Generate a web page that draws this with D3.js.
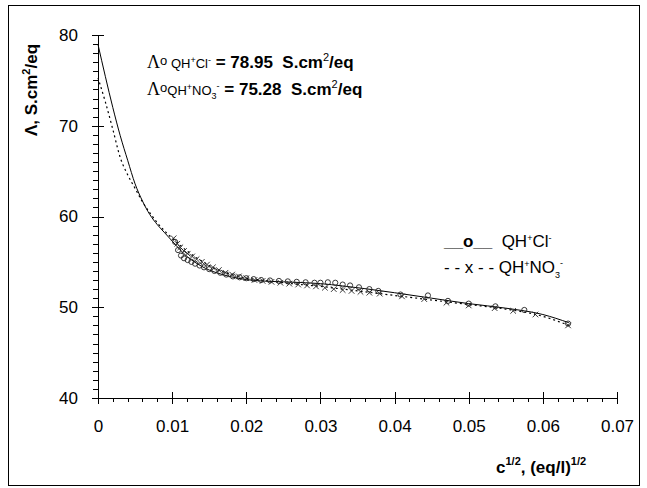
<!DOCTYPE html>
<html>

<head>
  <meta charset="UTF-8">
  <title>Conductance</title>
  <style>
    body { margin: 0; background: #fff; }
    svg { display: block; font-family: "Liberation Sans", Arial, sans-serif; }
    .axis path, .axis line { stroke: #000; stroke-width: 1; shape-rendering: crispEdges; }
    .axis text { font-size: 17px; fill: #000; }
  </style>
</head>

<body>
  <script src="https://cdn.jsdelivr.net/npm/d3@7"></script>
  <script>
    const width = 647,
      height = 488

    // tick values
    const xTicks = [0, 0.01, 0.02, 0.03, 0.04, 0.05, 0.06, 0.07]
    const yTicks = [40, 50, 60, 70, 80]

    // measured points, QH+Cl- (o)
    const clX = [0.0104, 0.0108, 0.0112, 0.0116, 0.0121, 0.0126, 0.0131, 0.0137, 0.0143, 0.0150,
      0.0157, 0.0165, 0.0173, 0.0182, 0.0191, 0.0200, 0.0210, 0.0220, 0.0232, 0.0244,
      0.0256, 0.0268, 0.0280, 0.0292, 0.0300, 0.0310, 0.0320, 0.0330, 0.0340, 0.0352,
      0.0366, 0.0378, 0.0408, 0.0445, 0.0472, 0.0500, 0.0536, 0.0575, 0.0634]
    const clY = [57.2, 56.3, 55.7, 55.4, 55.2, 55.0, 54.8, 54.6, 54.4, 54.2,
      54.0, 53.8, 53.6, 53.4, 53.3, 53.2, 53.1, 53.0, 52.95, 52.9,
      52.85, 52.8, 52.75, 52.7, 52.7, 52.75, 52.7, 52.5, 52.4, 52.2,
      52.0, 51.8, 51.4, 51.3, 50.7, 50.4, 50.1, 49.7, 48.2]

    // measured points, QH+NO3- (x)
    const noX = [0.0102, 0.0107, 0.0111, 0.0116, 0.0121, 0.0127, 0.0133, 0.0140, 0.0147, 0.0155,
      0.0163, 0.0172, 0.0181, 0.0190, 0.0200, 0.0211, 0.0222, 0.0234, 0.0246, 0.0258,
      0.0270, 0.0282, 0.0294, 0.0306, 0.0318, 0.0330, 0.0342, 0.0354, 0.0366, 0.0380,
      0.0410, 0.0440, 0.0470, 0.0500, 0.0535, 0.0560, 0.0590, 0.0634]
    const noY = [57.6, 57.0, 56.6, 56.2, 55.9, 55.6, 55.3, 55.0, 54.7, 54.4,
      54.1, 53.8, 53.6, 53.4, 53.2, 53.0, 52.9, 52.8, 52.7, 52.6,
      52.5, 52.4, 52.3, 52.15, 52.0, 51.9, 51.8, 51.7, 51.6, 51.5,
      51.2, 50.9, 50.5, 50.2, 49.9, 49.6, 49.2, 48.0]

    // fitted curves
    const fitClX = [0, 0.001, 0.002, 0.003, 0.004, 0.005, 0.006, 0.007, 0.008, 0.009, 0.010,
      0.011, 0.012, 0.013, 0.014, 0.015, 0.016, 0.018, 0.020, 0.022, 0.025, 0.028,
      0.030, 0.033, 0.036, 0.040, 0.045, 0.050, 0.055, 0.060, 0.0635]
    const fitClY = [78.95, 75.4, 72.0, 68.9, 66.2, 63.6, 61.7, 60.2, 59.1, 58.2, 57.3,
      56.4, 55.6, 55.0, 54.5, 54.1, 53.8, 53.35, 53.05, 52.9, 52.8, 52.7,
      52.6, 52.35, 52.05, 51.6, 51.0, 50.4, 49.9, 49.2, 48.3]
    const fitNoX = [0, 0.001, 0.002, 0.003, 0.004, 0.005, 0.006, 0.007, 0.008, 0.009, 0.010,
      0.011, 0.012, 0.013, 0.014, 0.015, 0.016, 0.018, 0.020, 0.022, 0.025, 0.028,
      0.030, 0.033, 0.036, 0.040, 0.045, 0.050, 0.055, 0.060, 0.0635]
    const fitNoY = [75.28, 72.6, 69.6, 66.5, 64.6, 63.1, 61.6, 60.4, 59.3, 58.4, 57.6,
      56.9, 56.2, 55.6, 55.1, 54.6, 54.2, 53.6, 53.2, 53.0, 52.7, 52.45,
      52.3, 52.0, 51.7, 51.3, 50.8, 50.3, 49.8, 49.0, 48.0]

    const svg = d3.select('body')
      .append('svg')
      .attr('width', width)
      .attr('height', height)

    // outer frame
    svg.append('rect')
      .attr('x', 8.5)
      .attr('y', 5.5)
      .attr('width', 631)
      .attr('height', 480)
      .attr('fill', 'none')
      .attr('stroke', '#000')

    const x = d3.scaleLinear().domain([0, 0.07]).range([98, 617])
    const y = d3.scaleLinear().domain([40, 80]).range([398, 35])

    const xMinor = d3.range(0, 71, 2).map(d => d / 1000).filter(d => !xTicks.some(t => Math.abs(t - d) < 1e-9))
    const yMinor = d3.range(40, 81).filter(d => yTicks.indexOf(d) < 0)

    // y axis: major ticks cross the line, minor ticks outside
    svg.append('g').attr('class', 'axis')
      .attr('transform', `translate(${x(0)},0)`)
      .call(d3.axisLeft(y).tickValues(yTicks).tickSize(6).tickPadding(14).tickFormat(d3.format('d')))
    svg.append('g').attr('class', 'axis')
      .attr('transform', `translate(${x(0)},0)`)
      .call(d3.axisRight(y).tickValues(yTicks).tickSize(6).tickSizeOuter(0).tickFormat(''))
    svg.append('g').attr('class', 'axis')
      .attr('transform', `translate(${x(0)},0)`)
      .call(d3.axisLeft(y).tickValues(yMinor).tickSize(5).tickSizeOuter(0).tickFormat(''))

    // x axis
    svg.append('g').attr('class', 'axis')
      .attr('transform', `translate(0,${y(40)})`)
      .call(d3.axisBottom(x).tickValues(xTicks).tickSize(6).tickPadding(16)
        .tickFormat(d => d === 0 ? '0' : d3.format('.2f')(d)))
    svg.append('g').attr('class', 'axis')
      .attr('transform', `translate(0,${y(40)})`)
      .call(d3.axisTop(x).tickValues(xTicks).tickSize(6).tickSizeOuter(0).tickFormat(''))
    svg.append('g').attr('class', 'axis')
      .attr('transform', `translate(0,${y(40)})`)
      .call(d3.axisBottom(x).tickValues(xMinor).tickSize(4).tickSizeOuter(0).tickFormat(''))

    svg.selectAll('.axis .domain').attr('stroke', '#000')

    // fitted curves
    const line = d3.line().x(d => x(d[0])).y(d => y(d[1])).curve(d3.curveMonotoneX)

    svg.append('path')
      .datum(d3.zip(fitClX, fitClY))
      .attr('d', line)
      .attr('fill', 'none')
      .attr('stroke', '#000')
      .attr('stroke-width', 1)

    svg.append('path')
      .datum(d3.zip(fitNoX, fitNoY))
      .attr('d', line)
      .attr('fill', 'none')
      .attr('stroke', '#000')
      .attr('stroke-width', 1.2)
      .attr('stroke-dasharray', '2,3')

    // markers
    svg.append('g')
      .selectAll('circle')
      .data(d3.zip(clX, clY))
      .enter()
      .append('circle')
      .attr('cx', d => x(d[0]))
      .attr('cy', d => y(d[1]))
      .attr('r', 2.6)
      .attr('fill', 'none')
      .attr('stroke', '#222')
      .attr('stroke-width', 0.9)

    const cross = 2.8
    svg.append('g')
      .selectAll('path')
      .data(d3.zip(noX, noY))
      .enter()
      .append('path')
      .attr('d', d => {
        const px = x(d[0]), py = y(d[1])
        return `M${px - cross},${py - cross}L${px + cross},${py + cross}M${px - cross},${py + cross}L${px + cross},${py - cross}`
      })
      .attr('stroke', '#222')
      .attr('stroke-width', 0.9)

    // annotations
    function label(yPos, ion, value) {
      const t = svg.append('text')
        .attr('x', 147)
        .attr('y', yPos)
        .attr('font-size', 17)
      t.append('tspan').attr('font-family', 'Liberation Serif').attr('font-size', 18).text('Λ')
      t.append('tspan').attr('font-size', 13).attr('dy', -3).text('o')
      t.append('tspan').attr('font-size', 13).attr('dy', 3).text(ion === 'cl' ? '\u00a0QH' : 'QH')
      t.append('tspan').attr('font-size', 9).attr('dy', -5).text('+')
      if (ion === 'cl') {
        t.append('tspan').attr('font-size', 13).attr('dy', 5).text('Cl')
        t.append('tspan').attr('font-size', 9).attr('dy', -5).text('-')
        t.append('tspan').attr('font-weight', 'bold').attr('dy', 5).text('\u00a0= ' + value + '\u00a0\u00a0S.cm')
      } else {
        t.append('tspan').attr('font-size', 13).attr('dy', 5).text('NO')
        t.append('tspan').attr('font-size', 9).attr('dy', 4).text('3')
        t.append('tspan').attr('font-size', 9).attr('dy', -10).text('-')
        t.append('tspan').attr('font-weight', 'bold').attr('dy', 6).text('\u00a0= ' + value + '\u00a0\u00a0S.cm')
      }
      t.append('tspan').attr('font-size', 11).attr('dy', -7).text('2')
      t.append('tspan').attr('font-weight', 'bold').attr('dy', 7).text('/eq')
    }
    label(68, 'cl', '78.95')
    label(95, 'no', '75.28')

    // legend
    const lg1 = svg.append('text').attr('x', 444).attr('y', 247).attr('font-size', 17)
    lg1.append('tspan').attr('font-weight', 'bold').text('__o__')
    lg1.append('tspan').text('\u00a0\u00a0QH')
    lg1.append('tspan').attr('font-size', 9).attr('dy', -6).text('+')
    lg1.append('tspan').attr('dy', 6).text('Cl')
    lg1.append('tspan').attr('font-size', 9).attr('dy', -6).text('-')

    const lg2 = svg.append('text').attr('x', 444).attr('y', 273).attr('font-size', 17)
    lg2.append('tspan').text('- - x - -\u00a0QH')
    lg2.append('tspan').attr('font-size', 9).attr('dy', -6).text('+')
    lg2.append('tspan').attr('dy', 6).text('NO')
    lg2.append('tspan').attr('font-size', 9).attr('dy', 5).text('3')
    lg2.append('tspan').attr('font-size', 9).attr('dy', -12).text('-')

    // axis titles
    const yt = svg.append('text')
      .attr('transform', 'translate(37,90) rotate(-90)')
      .attr('text-anchor', 'middle')
      .attr('font-size', 17)
      .attr('font-weight', 'bold')
    yt.append('tspan').text('Λ, S.cm')
    yt.append('tspan').attr('font-size', 11).attr('dy', -7).text('2')
    yt.append('tspan').attr('dy', 7).text('/eq')

    const xt = svg.append('text')
      .attr('x', 496)
      .attr('y', 473)
      .attr('font-size', 17)
      .attr('font-weight', 'bold')
    xt.append('tspan').text('c')
    xt.append('tspan').attr('font-size', 11).attr('dy', -8).text('1/2')
    xt.append('tspan').attr('dy', 8).text(', (eq/l)')
    xt.append('tspan').attr('font-size', 11).attr('dy', -8).text('1/2')
  </script>
</body>

</html>
